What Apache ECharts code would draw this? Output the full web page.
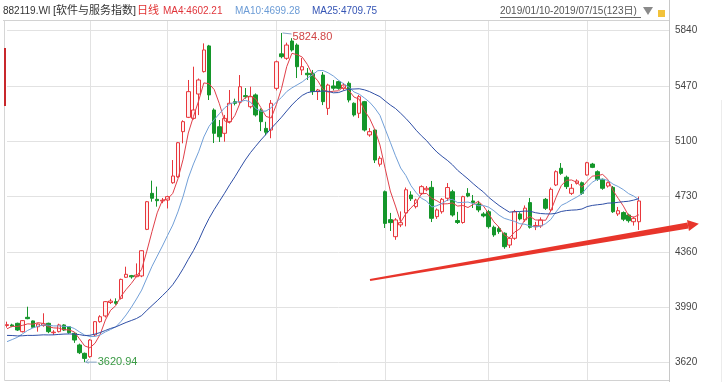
<!DOCTYPE html>
<html><head><meta charset="utf-8">
<script src="https://cdn.jsdelivr.net/npm/echarts@6/dist/echarts.min.js"></script>
<style>html,body{margin:0;padding:0;background:#fff}#c{width:726px;height:386px}</style>
</head><body><div id="c"></div>
<script>
const dates = [
'2019/01/10','2019/01/11','2019/01/14','2019/01/15','2019/01/16','2019/01/17','2019/01/18','2019/01/21','2019/01/22','2019/01/23','2019/01/24','2019/01/25','2019/01/28','2019/01/29','2019/01/30','2019/01/31',
'2019/02/01','2019/02/11','2019/02/12','2019/02/13','2019/02/14','2019/02/15','2019/02/18','2019/02/19','2019/02/20','2019/02/21','2019/02/22','2019/02/25','2019/02/26','2019/02/27','2019/02/28',
'2019/03/01','2019/03/04','2019/03/05','2019/03/06','2019/03/07','2019/03/08','2019/03/11','2019/03/12','2019/03/13','2019/03/14','2019/03/15','2019/03/18','2019/03/19','2019/03/20','2019/03/21','2019/03/22','2019/03/25','2019/03/26','2019/03/27','2019/03/28','2019/03/29',
'2019/04/01','2019/04/02','2019/04/03','2019/04/04','2019/04/08','2019/04/09','2019/04/10','2019/04/11','2019/04/12','2019/04/15','2019/04/16','2019/04/17','2019/04/18','2019/04/19','2019/04/22','2019/04/23','2019/04/24','2019/04/25','2019/04/26','2019/04/29','2019/04/30',
'2019/05/06','2019/05/07','2019/05/08','2019/05/09','2019/05/10','2019/05/13','2019/05/14','2019/05/15','2019/05/16','2019/05/17','2019/05/20','2019/05/21','2019/05/22','2019/05/23','2019/05/24','2019/05/27','2019/05/28','2019/05/29','2019/05/30','2019/05/31',
'2019/06/03','2019/06/04','2019/06/05','2019/06/06','2019/06/10','2019/06/11','2019/06/12','2019/06/13','2019/06/14','2019/06/17','2019/06/18','2019/06/19','2019/06/20','2019/06/21','2019/06/24','2019/06/25','2019/06/26','2019/06/27','2019/06/28',
'2019/07/01','2019/07/02','2019/07/03','2019/07/04','2019/07/05','2019/07/08','2019/07/09','2019/07/10','2019/07/11','2019/07/12','2019/07/15'];

const opens = [
3866,3870,3881,3825,3921,3897,3858,3866,3881,3818,3825,3870,3858,3814,3736,3680,
3658,3803,3892,3930,4020,4026,4048,4189,4200,4193,4198,4510,4751,4711,4700,
4706,4822,4862,5164,5260,5253,5416,5566,5738,5309,5197,5153,5231,5365,5361,5405,5331,5410,5309,5186,5175,
5454,5685,5655,5771,5744,5577,5555,5555,5432,5543,5320,5470,5499,5454,5488,5354,5287,5365,5142,5175,4946,
4762,4575,4461,4540,4620,4740,4662,4751,4775,4791,4595,4628,4718,4762,4569,4556,4751,4700,4680,4613,
4628,4524,4515,4484,4405,4450,4613,4573,4689,4528,4533,4711,4640,4807,4919,4859,4751,4818,4822,
4874,4947,4896,4845,4800,4791,4613,4622,4606,4561,4561];

const closes = [
3872,3862,3836,3899,3912,3854,3876,3878,3825,3822,3870,3836,3818,3769,3684,3646,
3769,3892,3925,4026,4030,4015,4175,4209,4192,4204,4367,4695,4718,4702,4705,
4729,4867,5090,5231,5432,5309,5510,5711,5410,5153,5130,5253,5354,5354,5465,5398,5398,5276,5231,5160,5354,
5632,5666,5744,5711,5599,5599,5545,5432,5443,5365,5476,5455,5454,5476,5376,5276,5398,5175,5164,4974,4986,
4550,4555,4573,4555,4775,4715,4706,4796,4785,4584,4640,4711,4790,4606,4556,4729,4733,4690,4640,4600,
4528,4473,4495,4394,4450,4628,4580,4652,4524,4536,4573,4651,4778,4896,4885,4796,4785,4834,4751,
4956,4925,4845,4785,4822,4628,4635,4578,4568,4584,4700];

const lows = [
3852,3855,3830,3820,3908,3850,3825,3858,3815,3803,3820,3830,3812,3750,3675,3620.94,
3650,3795,3885,3920,4010,4005,4040,4185,4180,4190,4190,4505,4695,4662,4685,
4650,4815,4855,5086,5255,5245,5275,5560,5376,5088,5095,5097,5220,5340,5350,5385,5320,5265,5168,5140,5120,
5440,5655,5645,5700,5523,5543,5510,5410,5376,5342,5276,5440,5445,5440,5360,5265,5255,5165,5130,4954,4930,
4519,4499,4440,4525,4530,4700,4650,4740,4765,4559,4580,4615,4700,4595,4546,4548,4725,4653,4625,4590,
4515,4460,4480,4380,4385,4440,4570,4560,4515,4505,4520,4640,4630,4800,4875,4780,4740,4810,4740,
4870,4920,4835,4775,4790,4620,4600,4565,4555,4535,4506];

const highs = [
3892,3878,3885,3903,3992,3900,3880,3948,3885,3835,3878,3875,3862,3820,3745,3685,
3775,3895,3935,4030,4045,4048,4180,4260,4205,4282,4370,4700,4836,4796,4720,
4735,4974,5095,5240,5510,5599,5520,5755,5745,5320,5242,5276,5443,5385,5543,5456,5465,5420,5320,5230,5376,
5640,5824.80,5760,5790,5755,5657,5590,5577,5450,5563,5485,5510,5505,5490,5500,5360,5410,5370,5188,5180,5000,
4770,4620,4585,4630,4790,4765,4715,4805,4800,4834,4650,4720,4820,4775,4627,4735,4786,4740,4700,4625,
4640,4535,4530,4490,4460,4640,4625,4670,4720,4560,4590,4720,4790,4905,4954,4870,4814,4845,4830,
4962,4955,4905,4850,4830,4800,4660,4630,4615,4595,4729];

// closes before 2019/01/10 (estimated from where the MA lines start)
const priorCloses = [3880,3905,3870,3850,3862,3835,3820,3840,3810,3795,3780,3800,3790,3770,3810,3720,3690,3665,3680,3690,3760,3795,3840,3870];

const yTicks = [3620, 3990, 4360, 4730, 5100, 5470, 5840];
const maPeriods = [4, 10, 25];
const maLabels = ['MA4:4602.21', 'MA10:4699.28', 'MA25:4709.75'];
const titleCode = '882119.WI';
const titleName = '[软件与服务指数]';
const periodLabel = '日线';
const rangeLabel = '2019/01/10-2019/07/15(123日)';
const maxIdx = 53, maxVal = 5824.80, maxText = '5824.80';
const minIdx = 15, minVal = 3620.94, minText = '3620.94';
const padSlots = 6;

const UP = '#e8373c', DOWN = '#14962a';
const maColors = ['#e0404a', '#72a0d8', '#2f4fa6'];
const FONT = "'Liberation Sans','Noto Sans CJK SC',sans-serif";

const cats = dates.concat(Array.from({length: padSlots}, (_, k) => 'pad' + k));
const monthStarts = new Set();
dates.forEach((d, i) => { if (i > 0 && d.slice(0, 7) !== dates[i - 1].slice(0, 7)) monthStarts.add(i); });

const candles = dates.map((d, i) => [opens[i], closes[i], lows[i], highs[i]]);
const full = priorCloses.concat(closes);
function ma(n) {
  return closes.map((_, i) => {
    const end = i + priorCloses.length;
    let s = 0;
    for (let k = end - n + 1; k <= end; k++) s += full[k];
    return +(s / n).toFixed(2);
  });
}

const chart = echarts.init(document.getElementById('c'), null, {renderer: 'canvas'});
const option = {
  animation: false,
  backgroundColor: '#fff',
  grid: {left: 7, right: 56, top: 20, bottom: 6, show: false},
  xAxis: {
    type: 'category', data: cats, boundaryGap: false,
    axisLine: {show: false}, axisTick: {show: false}, axisLabel: {show: false},
    splitLine: {show: true, interval: (idx) => monthStarts.has(idx), lineStyle: {color: '#e2e2e2', width: 1}}
  },
  yAxis: {
    type: 'value', position: 'right', min: 3501.4, max: 5911.6,
    axisLine: {show: false},
    axisTick: {show: false, customValues: yTicks},
    axisLabel: {customValues: yTicks, formatter: (v) => String(v), color: '#444', fontSize: 10, fontFamily: FONT, margin: 5},
    splitLine: {show: true, lineStyle: {color: '#e2e2e2', width: 1}}
  },
  series: [
    {
      type: 'candlestick', data: candles, barWidth: 4, clip: false,
      itemStyle: {color: '#fff3f3', color0: DOWN, borderColor: UP, borderColor0: DOWN, borderWidth: 1}
    }
  ].concat(maPeriods.map((n, k) => ({
    type: 'line', data: ma(n), showSymbol: false, symbol: 'none', smooth: false, z: 3,
    lineStyle: {color: maColors[k], width: 1}
  })))
};
chart.setOption(option);

const pMax = chart.convertToPixel({gridIndex: 0}, [maxIdx, maxVal]);
const pMin = chart.convertToPixel({gridIndex: 0}, [minIdx, minVal]);

// arrow annotation (hand-drawn style)
const S = [370, 280], E = [688, 225.5];
const len = Math.hypot(E[0] - S[0], E[1] - S[1]);
const d = [(E[0] - S[0]) / len, (E[1] - S[1]) / len];
const n = [-d[1], d[0]];
const shaft = [
  [S[0] + n[0] * 1, S[1] + n[1] * 1], [E[0] + n[0] * 3, E[1] + n[1] * 3],
  [E[0] - n[0] * 3, E[1] - n[1] * 3], [S[0] - n[0] * 1, S[1] - n[1] * 1]
];
const head = [
  [E[0] + n[0] * 5.5, E[1] + n[1] * 5.5], [E[0] + d[0] * 11, E[1] + d[1] * 11], [E[0] - n[0] * 5.5, E[1] - n[1] * 5.5]
];

function txt(x, y, text, fill, size) {
  return {type: 'text', x: x, y: y, silent: true,
    style: {text: text, fill: fill, font: (size || 10) + 'px ' + FONT, verticalAlign: 'middle', align: 'left'}};
}
function line(x1, y1, x2, y2, color, w) {
  return {type: 'line', silent: true, shape: {x1, y1, x2, y2}, style: {stroke: color, lineWidth: w || 1}};
}

const graphics = [
  line(3, 20.5, 670, 20.5, '#d2d2d2'),
  line(4.5, 20.5, 4.5, 380.5, '#d6d6d6'),
  line(4.5, 380.5, 670, 380.5, '#d2d2d2'),
  line(669.5, 0, 669.5, 382, '#c8c8c8'),
  line(721.5, 100, 721.5, 382, '#ececec'),
  {type: 'rect', silent: true, shape: {x: 4, y: 48, width: 2, height: 58}, style: {fill: '#c8282c'}},
  txt(3, 11, titleCode, '#333', 10),
  txt(53, 11, titleName, '#333', 11),
  txt(137, 11, periodLabel, '#e03030', 11),
  txt(163, 11, maLabels[0], '#e0353b'),
  txt(235, 11, maLabels[1], '#6c9cd6'),
  txt(312, 11, maLabels[2], '#3555b5'),
  txt(500, 11, rangeLabel, '#555'),
  line(500, 17.5, 641, 17.5, '#666'),
  {type: 'polygon', silent: true, shape: {points: [[643, 7], [653, 7], [648, 15]]}, style: {fill: '#8a8a8a'}},
  {type: 'rect', silent: true, shape: {x: 658, y: 10, width: 7, height: 7}, style: {fill: '#f2c23a'}},
  // max / min labels
  {type: 'polyline', silent: true, shape: {points: [[pMax[0] + 1, pMax[1]], [pMax[0] + 10, pMax[1] + 1]]}, style: {stroke: '#8aa8c8', lineWidth: 1}},
  txt(pMax[0] + 11, pMax[1] + 4, maxText, '#d04545', 11),
  {type: 'polyline', silent: true, shape: {points: [[pMin[0] + 4, pMin[1] - 3], [pMin[0] + 1, pMin[1]], [pMin[0] + 4, pMin[1] + 1]]}, style: {stroke: '#8aa8c8', lineWidth: 1}},
  line(pMin[0] + 1, pMin[1], pMin[0] + 12, pMin[1], '#8aa8c8'),
  txt(pMin[0] + 13, pMin[1], minText, '#3a9a44', 11),
  {type: 'polygon', silent: true, shape: {points: shaft}, style: {fill: '#e8352b'}, z: 10},
  {type: 'polygon', silent: true, shape: {points: head}, style: {fill: '#e8352b'}, z: 10}
];
chart.setOption({graphic: graphics});
</script>
</body></html>
